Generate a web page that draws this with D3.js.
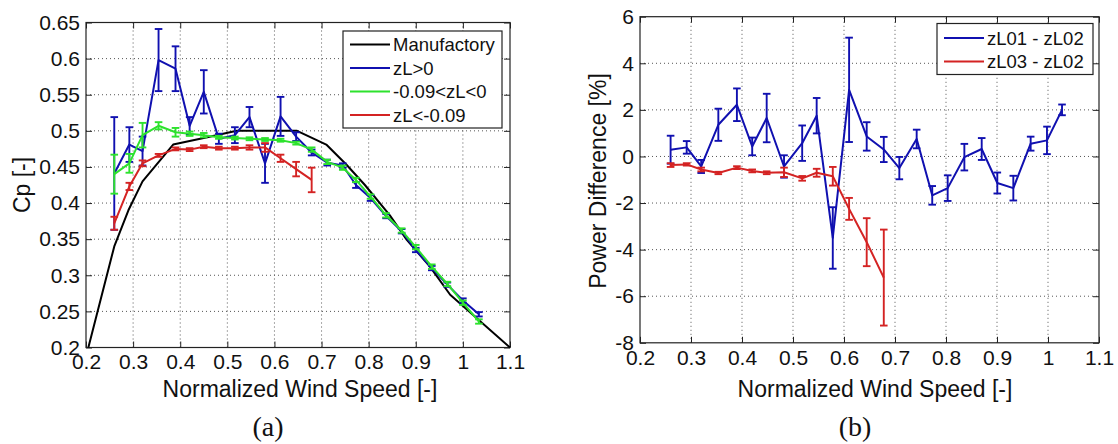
<!DOCTYPE html>
<html>
<head>
<meta charset="utf-8">
<script src="https://cdn.jsdelivr.net/npm/d3@7"></script>
<style>
    html, body { margin: 0; padding: 0; background: #fff; }
    svg { display: block; font-family: "Liberation Sans", Arial, sans-serif; }
</style>
</head>
<body>
<svg id="chart" width="1118" height="444"></svg>
<script>
// ---- Panel (a): Cp curves ----
let cpTicksX = [0.2, 0.3, 0.4, 0.5, 0.6, 0.7, 0.8, 0.9, 1.0, 1.1];
let cpTicksY = [0.2, 0.25, 0.3, 0.35, 0.4, 0.45, 0.5, 0.55, 0.6, 0.65];

// Manufacturer power curve
let manuSpeed = [0.205, 0.26, 0.29, 0.32, 0.385, 0.45, 0.52, 0.648, 0.71, 0.753, 0.792, 0.845, 0.881, 0.93, 0.973, 1.1];
let manuCp = [0.2, 0.34, 0.39, 0.43, 0.481, 0.49, 0.5, 0.5, 0.481, 0.453, 0.425, 0.383, 0.349, 0.312, 0.273, 0.2];

// Bin centres of the measured curves
let cpSpeed = [0.26, 0.292, 0.32, 0.354, 0.39, 0.42, 0.45, 0.482, 0.516, 0.547, 0.58, 0.613, 0.646,
    0.679, 0.712, 0.745, 0.773, 0.804, 0.837, 0.87, 0.9, 0.934, 0.967, 1.0, 1.034];

let cpStable = [0.441, 0.481, 0.472, 0.598, 0.586, 0.507, 0.554, 0.489, 0.494, 0.519, 0.455, 0.52, 0.492,
    0.47, 0.456, 0.452, 0.425, 0.407, 0.382, 0.361, 0.335, 0.31, 0.287, 0.265, 0.246];
let cpStableErr = [0.078, 0.024, 0.02, 0.043, 0.031, 0.012, 0.03, 0.007, 0.011, 0.014, 0.027, 0.027, 0.006,
    0.004, 0.004, 0.003, 0.004, 0.004, 0.003, 0.003, 0.003, 0.003, 0.003, 0.003, 0.003];

let cpNeutral = [0.44, 0.455, 0.494, 0.507, 0.498, 0.496, 0.494, 0.491, 0.49, 0.489, 0.488, 0.487, 0.483,
    0.474, 0.457, 0.449, 0.432, 0.409, 0.383, 0.362, 0.339, 0.312, 0.288, 0.262, 0.236];
let cpNeutralErr = [0.027, 0.013, 0.017, 0.005, 0.006, 0.003, 0.003, 0.002, 0.002, 0.002, 0.002, 0.002, 0.002,
    0.003, 0.003, 0.003, 0.003, 0.003, 0.003, 0.003, 0.003, 0.003, 0.003, 0.003, 0.003];

let cpUnstable = [0.372, 0.423, 0.455, 0.466, 0.475, 0.474, 0.478, 0.476, 0.476, 0.477, 0.477, 0.462, 0.447, 0.432];
let cpUnstableErr = [0.009, 0.005, 0.004, 0.002, 0.002, 0.002, 0.002, 0.002, 0.002, 0.003, 0.006, 0.005, 0.01, 0.017];

// ---- Panel (b): power difference ----
let pdTicksX = [0.2, 0.3, 0.4, 0.5, 0.6, 0.7, 0.8, 0.9, 1.0, 1.1];
let pdTicksY = [-8, -6, -4, -2, 0, 2, 4, 6];

let pdSpeed = [0.26, 0.2915, 0.32, 0.3536, 0.39, 0.42, 0.4484, 0.4824, 0.518, 0.5464, 0.578, 0.61, 0.6445,
    0.678, 0.7085, 0.7425, 0.773, 0.8033, 0.836, 0.87, 0.9006, 0.932, 0.966, 0.998, 1.0275];

let pdStable = [0.29, 0.39, -0.43, 1.36, 2.22, 0.43, 1.65, -0.43, 0.57, 1.75, -3.5, 2.86, 0.86,
    0.3, -0.5, 0.75, -1.67, -1.36, -0.03, 0.32, -1.14, -1.36, 0.55, 0.69, 2.0];
let pdStableErr = [0.6, 0.27, 0.28, 0.69, 0.7, 0.38, 1.04, 0.48, 0.76, 0.76, 1.32, 2.24, 0.61,
    0.54, 0.48, 0.4, 0.4, 0.55, 0.57, 0.47, 0.45, 0.53, 0.3, 0.59, 0.23];

let pdUnstable = [-0.37, -0.34, -0.56, -0.71, -0.48, -0.62, -0.7, -0.68, -0.94, -0.7, -0.85, -2.25, -3.68, -5.2];
let pdUnstableErr = [0.08, 0.05, 0.08, 0.05, 0.06, 0.06, 0.06, 0.2, 0.1, 0.17, 0.4, 0.47, 1.03, 2.06];

let colBlack = "#000000";
let colBlue = "#1010b0";
let colGreen = "#2de22d";
let colRed = "#d42323";


/**
 * One MATLAB-like panel with box, dotted grid and error bar series
 *
 * @param svg d3 selection of the svg
 * @param opt panel options (domains, pixel ranges, ticks)
 * @constructor
 */
function Panel(svg, opt) {
    let me = this;

    me.g = svg.append("g");

    me.x = d3.scaleLinear().domain(opt.xDomain).range(opt.xRange);
    me.y = d3.scaleLinear().domain(opt.yDomain).range(opt.yRange);

    let x0 = opt.xRange[0], x1 = opt.xRange[1];
    let y0 = opt.yRange[0], y1 = opt.yRange[1];

    // Dotted grid on the inner ticks
    me.g.append("g").selectAll("line")
        .data(opt.xTicks.slice(1, -1))
        .join("line")
        .attr("x1", d => me.x(d)).attr("x2", d => me.x(d))
        .attr("y1", y0).attr("y2", y1)
        .attr("stroke", "#555").attr("stroke-dasharray", "1,3");
    me.g.append("g").selectAll("line")
        .data(opt.yTicks.slice(1, -1))
        .join("line")
        .attr("x1", x0).attr("x2", x1)
        .attr("y1", d => me.y(d)).attr("y2", d => me.y(d))
        .attr("stroke", "#555").attr("stroke-dasharray", "1,3");

    // Axes, ticks pointing inwards on all four sides
    let styleAxis = function (sel) {
        sel.select(".domain").remove();
        sel.selectAll("line").attr("stroke", "#222");
        sel.selectAll("text").attr("font-size", 21).attr("fill", "#111")
            .attr("font-family", "Liberation Sans, Arial, sans-serif");
    };
    me.g.append("g").attr("transform", "translate(0," + y0 + ")")
        .call(d3.axisBottom(me.x).tickValues(opt.xTicks).tickFormat(opt.fmtX)
            .tickSizeInner(-6).tickSizeOuter(0).tickPadding(7))
        .call(styleAxis);
    me.g.append("g").attr("transform", "translate(0," + y1 + ")")
        .call(d3.axisTop(me.x).tickValues(opt.xTicks).tickFormat("")
            .tickSizeInner(-6).tickSizeOuter(0))
        .call(styleAxis);
    me.g.append("g").attr("transform", "translate(" + x0 + ",0)")
        .call(d3.axisLeft(me.y).tickValues(opt.yTicks).tickFormat(opt.fmtY)
            .tickSizeInner(-6).tickSizeOuter(0).tickPadding(6))
        .call(styleAxis);
    me.g.append("g").attr("transform", "translate(" + x1 + ",0)")
        .call(d3.axisRight(me.y).tickValues(opt.yTicks).tickFormat("")
            .tickSizeInner(-6).tickSizeOuter(0))
        .call(styleAxis);

    // Box
    me.g.append("rect")
        .attr("x", x0).attr("y", y1)
        .attr("width", x1 - x0).attr("height", y0 - y1)
        .attr("fill", "none").attr("stroke", "#222").attr("stroke-width", 1.2);

    // Axis titles
    me.g.append("text")
        .attr("x", opt.xTitlePos[0]).attr("y", opt.xTitlePos[1])
        .attr("text-anchor", "middle").attr("font-size", 23).attr("fill", "#111")
        .text(opt.xTitle);
    me.g.append("text")
        .attr("transform", "translate(" + opt.yTitlePos[0] + "," + opt.yTitlePos[1] + ") rotate(-90)")
        .attr("text-anchor", "middle").attr("font-size", 23).attr("fill", "#111")
        .text(opt.yTitle);

    // Panel letter
    me.g.append("text")
        .attr("x", opt.letterPos[0]).attr("y", opt.letterPos[1])
        .attr("text-anchor", "middle").attr("font-size", 28).attr("fill", "#111")
        .attr("font-family", "Liberation Serif, Times New Roman, serif")
        .text(opt.letter);


    /**
     * Plain line
     */
    this.addLine = function (xs, ys, color) {
        let line = d3.line().x((d, i) => me.x(xs[i])).y(d => me.y(d));
        me.g.append("path").datum(ys)
            .attr("d", line)
            .attr("fill", "none").attr("stroke", color)
            .attr("stroke-width", 2).attr("stroke-linejoin", "round");
    };


    /**
     * Line with symmetric error bars
     */
    this.addErrorSeries = function (xs, ys, errs, color) {
        me.addLine(xs, ys, color);

        let cap = 3.8;
        let bars = me.g.append("g").attr("stroke", color).attr("stroke-width", 1.9);
        ys.forEach(function (v, i) {
            let px = me.x(xs[i]);
            let top = me.y(v + errs[i]);
            let bot = me.y(v - errs[i]);
            bars.append("line").attr("x1", px).attr("x2", px).attr("y1", top).attr("y2", bot);
            bars.append("line").attr("x1", px - cap).attr("x2", px + cap).attr("y1", top).attr("y2", top);
            bars.append("line").attr("x1", px - cap).attr("x2", px + cap).attr("y1", bot).attr("y2", bot);
        });
    };


    /**
     * Legend box
     */
    this.addLegend = function (box, entries) {
        let lg = me.g.append("g");
        lg.append("rect")
            .attr("x", box.x).attr("y", box.y)
            .attr("width", box.w).attr("height", box.h)
            .attr("fill", "#fff").attr("stroke", "#222").attr("stroke-width", 1.2);
        entries.forEach(function (e, i) {
            let cy = box.y + box.first + i * box.step;
            lg.append("line")
                .attr("x1", box.x + 7).attr("x2", box.x + 47)
                .attr("y1", cy).attr("y2", cy)
                .attr("stroke", e.color).attr("stroke-width", 2);
            lg.append("text")
                .attr("x", box.x + 50).attr("y", cy).attr("dy", "0.36em")
                .attr("font-size", 18.5).attr("fill", "#111")
                .text(e.label);
        });
    };
}

let svg = d3.select("#chart");
let fmt = d => String(+d.toFixed(2));

// Panel (a)
let panelA = new Panel(svg, {
    xDomain: [0.2, 1.1], xRange: [86, 510],
    yDomain: [0.2, 0.65], yRange: [347.5, 22.5],
    xTicks: cpTicksX, yTicks: cpTicksY, fmtX: fmt, fmtY: fmt,
    xTitle: "Normalized Wind Speed [-]", xTitlePos: [300, 397],
    yTitle: "Cp [-]", yTitlePos: [30, 185],
    letter: "(a)", letterPos: [268, 436]
});
panelA.addLine(manuSpeed, manuCp, colBlack);
panelA.addErrorSeries(cpSpeed, cpStable, cpStableErr, colBlue);
panelA.addErrorSeries(cpSpeed, cpNeutral, cpNeutralErr, colGreen);
panelA.addErrorSeries(cpSpeed.slice(0, cpUnstable.length), cpUnstable, cpUnstableErr, colRed);
panelA.addLegend({x: 343, y: 31, w: 159, h: 97, first: 13.5, step: 23.5}, [
    {label: "Manufactory", color: colBlack},
    {label: "zL>0", color: colBlue},
    {label: "-0.09<zL<0", color: colGreen},
    {label: "zL<-0.09", color: colRed}
]);

// Panel (b)
let panelB = new Panel(svg, {
    xDomain: [0.2, 1.1], xRange: [640, 1099],
    yDomain: [-8, 6], yRange: [342.8, 16.7],
    xTicks: pdTicksX, yTicks: pdTicksY, fmtX: fmt, fmtY: d => String(d),
    xTitle: "Normalized Wind Speed [-]", xTitlePos: [875, 397],
    yTitle: "Power Difference [%]", yTitlePos: [606, 181],
    letter: "(b)", letterPos: [855, 436]
});
panelB.addErrorSeries(pdSpeed, pdStable, pdStableErr, colBlue);
panelB.addErrorSeries(pdSpeed.slice(0, pdUnstable.length), pdUnstable, pdUnstableErr, colRed);
panelB.addLegend({x: 937, y: 23.5, w: 156, h: 51, first: 14.5, step: 23.5}, [
    {label: "zL01 - zL02", color: colBlue},
    {label: "zL03 - zL02", color: colRed}
]);
</script>
</body>
</html>
